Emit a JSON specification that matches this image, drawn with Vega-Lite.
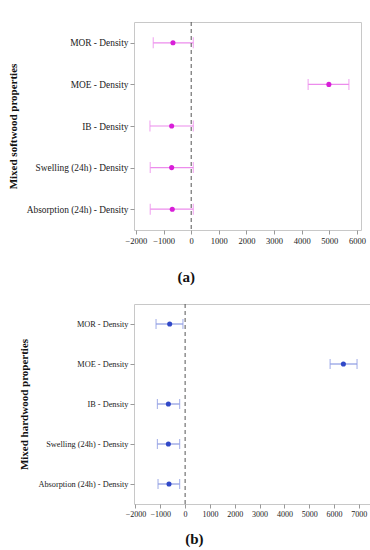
{
  "$schema": "https://vega.github.io/schema/vega-lite/v6.json",
  "padding": {"left": 6, "top": 21, "right": 0, "bottom": 0},
  "background": "white",
  "columns": 1,
  "align": "none",
  "spacing": 18,
  "config": {
    "font": "Liberation Serif",
    "view": {"stroke": "#c8c8c8", "strokeWidth": 1},
    "axis": {"grid": false, "domain": false, "tickColor": "#999999", "tickSize": 4, "labelColor": "#222222", "titleColor": "#111111", "labelFont": "Liberation Serif", "titleFont": "Liberation Serif"},
    "axisX": {"labelOverlap": false, "labelFlush": false},
    "title": {"font": "Liberation Serif", "fontSize": 15, "fontWeight": "bold", "color": "#111111"}
  },
  "datasets": {
    "soft": [
      {"prop": "MOR - Density", "est": -660, "lo": -1373, "hi": 76},
      {"prop": "MOE - Density", "est": 4982, "lo": 4232, "hi": 5707},
      {"prop": "IB - Density", "est": -707, "lo": -1493, "hi": 76},
      {"prop": "Swelling (24h) - Density", "est": -707, "lo": -1482, "hi": 76},
      {"prop": "Absorption (24h) - Density", "est": -685, "lo": -1482, "hi": 76}
    ],
    "hard": [
      {"prop": "MOR - Density", "est": -622, "lo": -1172, "hi": -88},
      {"prop": "MOE - Density", "est": 6378, "lo": 5843, "hi": 6928},
      {"prop": "IB - Density", "est": -675, "lo": -1116, "hi": -221},
      {"prop": "Swelling (24h) - Density", "est": -675, "lo": -1116, "hi": -221},
      {"prop": "Absorption (24h) - Density", "est": -650, "lo": -1092, "hi": -221}
    ],
    "zero": [{"z": 0}]
  },
  "concat": [
    {
      "width": 227,
      "height": 208,
      "title": {"text": "(a)", "orient": "bottom", "anchor": "middle", "frame": "bounds", "offset": 25},
      "layer": [
        {
          "data": {"name": "soft"},
          "mark": {"type": "rule", "color": "#ec8cec", "strokeWidth": 1.2},
          "encoding": {
            "y": {"field": "prop", "type": "nominal", "sort": null, "scale": {"type": "point", "padding": 0.5},
              "axis": {"title": "Mixed softwood properties", "titleFont": "Liberation Serif", "titleFontWeight": "bold", "titleFontSize": 11, "titlePadding": 8, "labelFont": "Liberation Serif", "labelFontSize": 9.4, "labelPadding": 2}},
            "x": {"field": "lo", "type": "quantitative", "scale": {"domain": [-2070, 6145], "nice": false},
              "axis": {"title": null, "format": "d", "tickCount": 9, "labelFont": "Liberation Serif", "labelFontSize": 8.5, "labelPadding": 2, "labelOverlap": false, "labelFlush": false}},
            "x2": {"field": "hi"}
          }
        },
        {
          "data": {"name": "soft"},
          "mark": {"type": "tick", "color": "#ec8cec", "thickness": 1.2, "size": 11, "orient": "vertical"},
          "encoding": {"y": {"field": "prop", "type": "nominal", "sort": null}, "x": {"field": "lo", "type": "quantitative"}}
        },
        {
          "data": {"name": "soft"},
          "mark": {"type": "tick", "color": "#ec8cec", "thickness": 1.2, "size": 11, "orient": "vertical"},
          "encoding": {"y": {"field": "prop", "type": "nominal", "sort": null}, "x": {"field": "hi", "type": "quantitative"}}
        },
        {
          "data": {"name": "soft"},
          "mark": {"type": "point", "filled": true, "shape": "circle", "size": 26, "color": "#d81ed8", "opacity": 1},
          "encoding": {"y": {"field": "prop", "type": "nominal", "sort": null}, "x": {"field": "est", "type": "quantitative"}}
        },
        {
          "data": {"name": "zero"},
          "mark": {"type": "rule", "color": "#555555", "strokeDash": [4, 3], "strokeWidth": 1},
          "encoding": {"x": {"field": "z", "type": "quantitative"}}
        }
      ]
    },
    {
      "width": 236,
      "height": 200,
      "title": {"text": "(b)", "orient": "bottom", "anchor": "middle", "frame": "bounds", "offset": 14},
      "layer": [
        {
          "data": {"name": "hard"},
          "mark": {"type": "rule", "color": "#8c9ae2", "strokeWidth": 1.2},
          "encoding": {
            "y": {"field": "prop", "type": "nominal", "sort": null, "scale": {"type": "point", "padding": 0.5},
              "axis": {"title": "Mixed hardwood properties", "titleFont": "Liberation Serif", "titleFontWeight": "bold", "titleFontSize": 11, "titlePadding": 8, "labelFont": "Liberation Serif", "labelFontSize": 8.3, "labelPadding": 2}},
            "x": {"field": "lo", "type": "quantitative", "scale": {"domain": [-2060, 7450], "nice": false},
              "axis": {"title": null, "format": "d", "tickCount": 10, "labelFont": "Liberation Serif", "labelFontSize": 8, "labelPadding": 2, "labelOverlap": false, "labelFlush": false}},
            "x2": {"field": "hi"}
          }
        },
        {
          "data": {"name": "hard"},
          "mark": {"type": "tick", "color": "#8c9ae2", "thickness": 1.2, "size": 10, "orient": "vertical"},
          "encoding": {"y": {"field": "prop", "type": "nominal", "sort": null}, "x": {"field": "lo", "type": "quantitative"}}
        },
        {
          "data": {"name": "hard"},
          "mark": {"type": "tick", "color": "#8c9ae2", "thickness": 1.2, "size": 10, "orient": "vertical"},
          "encoding": {"y": {"field": "prop", "type": "nominal", "sort": null}, "x": {"field": "hi", "type": "quantitative"}}
        },
        {
          "data": {"name": "hard"},
          "mark": {"type": "point", "filled": true, "shape": "circle", "size": 26, "color": "#3048c8", "opacity": 1},
          "encoding": {"y": {"field": "prop", "type": "nominal", "sort": null}, "x": {"field": "est", "type": "quantitative"}}
        },
        {
          "data": {"name": "zero"},
          "mark": {"type": "rule", "color": "#555555", "strokeDash": [4, 3], "strokeWidth": 1},
          "encoding": {"x": {"field": "z", "type": "quantitative"}}
        }
      ]
    }
  ]
}
